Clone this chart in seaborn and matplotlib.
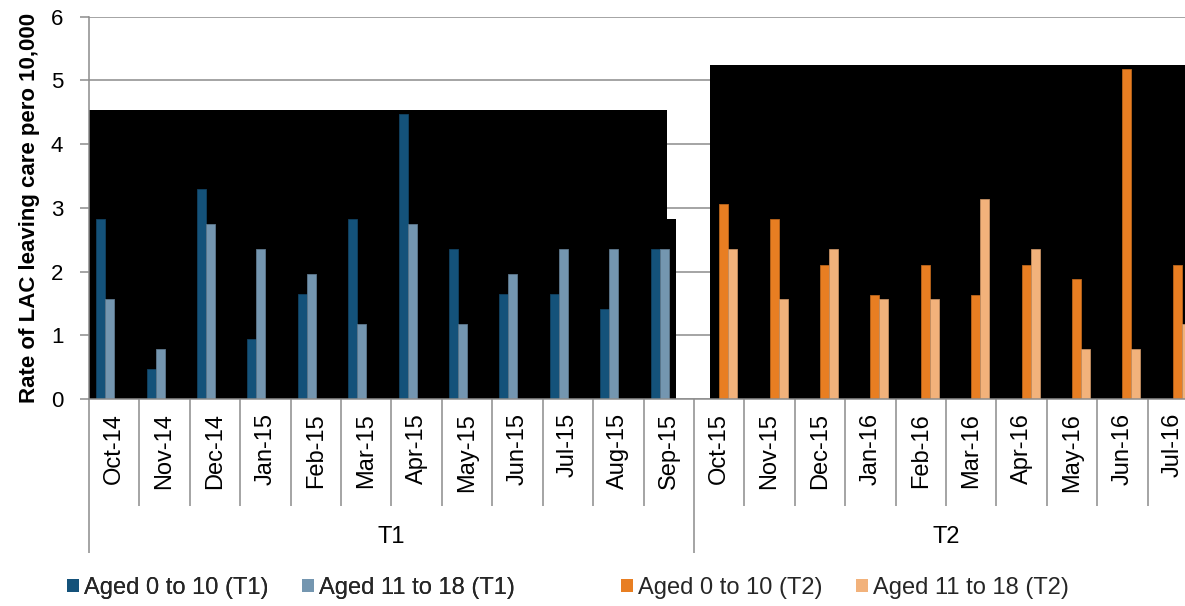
import matplotlib
matplotlib.use("Agg")
import matplotlib.pyplot as plt
import matplotlib.transforms as mtransforms
from matplotlib.patches import Patch, Rectangle
from matplotlib.colors import to_rgb
import pandas as pd
import seaborn as sns

# Months on the category axis, split into two periods
t1_months = ["Oct-14", "Nov-14", "Dec-14", "Jan-15", "Feb-15", "Mar-15",
             "Apr-15", "May-15", "Jun-15", "Jul-15", "Aug-15", "Sep-15"]
t2_months = ["Oct-15", "Nov-15", "Dec-15", "Jan-16", "Feb-16", "Mar-16",
             "Apr-16", "May-16", "Jun-16", "Jul-16"]
months = t1_months + t2_months

series = ["Aged 0 to 10 (T1)", "Aged 11 to 18 (T1)",
          "Aged 0 to 10 (T2)", "Aged 11 to 18 (T2)"]
colors = ["#14527a", "#7496b0", "#e87e22", "#f2b27b"]

# Rate of LAC leaving care per 10,000
t1_young = [2.82, 0.47, 3.29, 0.94, 1.65, 2.82, 4.47, 2.35, 1.65, 1.65, 1.41, 2.35]
t1_old = [1.57, 0.78, 2.75, 2.36, 1.96, 1.17, 2.75, 1.17, 1.96, 2.36, 2.36, 2.36]
t2_young = [3.06, 2.82, 2.11, 1.64, 2.11, 1.64, 2.11, 1.88, 5.18, 2.11]
t2_old = [2.35, 1.57, 2.35, 1.57, 1.57, 3.14, 2.35, 0.78, 0.78, 1.17]

# Dark background panels behind each period: (x start, x end, top)
panels = [(-0.5, 10.97, 4.54), (10.97, 11.15, 2.83), (11.82, 21.5, 5.24)]

rows = []
for m, a, b in zip(t1_months, t1_young, t1_old):
    rows += [(m, series[0], a), (m, series[1], b)]
for m, a, b in zip(t2_months, t2_young, t2_old):
    rows += [(m, series[2], a), (m, series[3], b)]
df = pd.DataFrame(rows, columns=["month", "series", "rate"])

sns.set_theme(style="white")
plt.rcParams["font.family"] = ["Liberation Sans", "DejaVu Sans"]

W, H = 1185, 606
fig = plt.figure(figsize=(W / 100, H / 100), dpi=100)
ax = fig.add_axes([89 / W, 207 / H, 1109 / W, 382.3 / H])

sns.barplot(data=df, x="month", y="rate", hue="series", order=months,
            hue_order=series, palette=colors, width=0.714, saturation=1,
            errorbar=None, legend=False, ax=ax)

for p in list(ax.patches):
    r, g, b = to_rgb(p.get_facecolor())
    p.set_edgecolor((r * 0.8, g * 0.8, b * 0.8))
    p.set_linewidth(0.6)
    p.set_zorder(2)

for x0, x1, top in panels:
    ax.add_patch(Rectangle((x0, 0), x1 - x0, top, facecolor="black",
                           edgecolor="none", zorder=1))

grey = "#8c8c8c"
ax.set_xlim(-0.5, 21.5)
ax.set_ylim(0, 6)
ax.set_yticks(range(7))
ax.yaxis.grid(True, color=grey, linewidth=1.1)
ax.set_axisbelow(True)
for s in ["top", "right"]:
    ax.spines[s].set_visible(False)
for s in ["left", "bottom"]:
    ax.spines[s].set_color(grey)
    ax.spines[s].set_linewidth(1.1)

ax.tick_params(axis="y", which="major", direction="out", left=True,
               length=6.5, width=1.1, color=grey, labelsize=16, pad=12,
               labelcolor="black")
ax.set_xticks(range(len(months)))
ax.set_xticklabels(months, rotation=90)
ax.tick_params(axis="x", length=0, labelsize=17, pad=10, labelcolor="black")

ax.set_xlabel("")
ax.set_ylabel("Rate of LAC leaving care pero 10,000", fontsize=16,
              fontweight="bold", color="black")
ax.yaxis.set_label_coords(-0.0442, 0.5)

# Multi-level category axis: month dividers and period dividers
trans = mtransforms.blended_transform_factory(ax.transData, ax.transAxes)
for k in range(len(months) + 1):
    x = k - 0.5
    ybot = -0.403 if k in (0, len(t1_months), len(months)) else -0.28
    ax.plot([x, x], [0, ybot], transform=trans, color=grey, lw=1.1,
            clip_on=False, solid_capstyle="butt")

n1 = len(t1_months)
ax.text((n1 - 1) / 2, -0.361, "T1", transform=trans, ha="center",
        va="center", fontsize=17, color="black")
ax.text(n1 - 0.5 + len(t2_months) / 2, -0.361, "T2", transform=trans,
        ha="center", va="center", fontsize=17, color="black")

# Legend: one block per period along the bottom edge
handles = [Patch(facecolor=c, edgecolor="none") for c in colors]
legend_kw = dict(loc="center", ncol=2, frameon=False, fontsize=17,
                 handlelength=0.5, handleheight=0.5, handletextpad=0.2,
                 columnspacing=1.44)
leg1 = fig.legend(handles[:2], series[:2],
                  bbox_to_anchor=(291 / W, 1 - 588 / H), **legend_kw)
fig.add_artist(leg1)
fig.legend(handles[2:], series[2:],
           bbox_to_anchor=(845 / W, 1 - 588 / H), **legend_kw)

fig.savefig("out.png", dpi=100)
